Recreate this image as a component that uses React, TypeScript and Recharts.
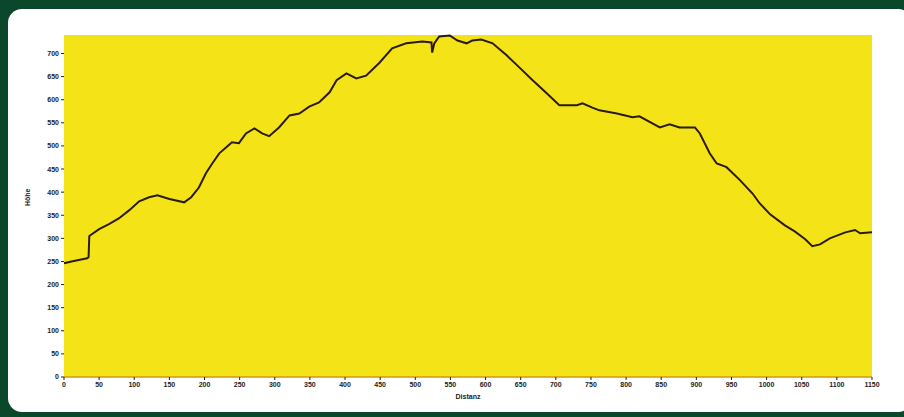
import { LineChart, Line, XAxis, YAxis, CartesianGrid, Label } from 'recharts'

// elevation profile
const distance = [
  0, 14, 33, 35, 36, 50, 64, 78, 93, 107, 121, 133, 150, 171, 181, 192, 202, 211, 221, 231,
  239, 249, 259, 271, 282, 292, 306, 321, 335, 349, 363, 378, 388, 402, 416, 430, 449, 467,
  487, 510, 523, 524, 527, 534, 549, 560, 573, 581, 594, 610, 630, 648, 667, 687, 705, 730,
  738, 752, 762, 787, 809, 819, 848, 862, 876, 898, 905, 919, 929, 943, 962, 980, 990, 1005,
  1026, 1040, 1055, 1065, 1076, 1090, 1112, 1126, 1133, 1150,
]
const elevation = [
  246, 251, 257, 259, 305, 320, 331, 343, 361, 380, 389, 393, 385, 378, 389, 410, 441, 462, 484, 497,
  508, 506, 527, 538, 527, 521, 540, 566, 570, 585, 594, 616, 642, 657, 646, 652, 680, 711,
  722, 726, 724, 702, 722, 737, 739, 728, 722, 728, 730, 722, 696, 670, 642, 614, 588, 588,
  592, 583, 577, 570, 562, 564, 540, 547, 540, 540, 527, 484, 462, 454, 426, 397, 376, 352,
  328, 315, 298, 283, 287, 300, 313, 318, 311, 313,
]
const xTicks = Array.from({ length: 24 }, (_, i) => i * 50)
const yTicks = Array.from({ length: 15 }, (_, i) => i * 50)

const data = distance.map((d, i) => ({ d, h: elevation[i] }))

const tickStyle = { fill: '#222', fontSize: 7, fontWeight: 700, fontFamily: 'Liberation Sans, Arial, sans-serif' }

export default function App() {
  return (
    <div style={{ position: 'absolute', left: 0, top: 0, width: 904, height: 417, background: '#0b472a', overflow: 'hidden' }}>
      <div style={{
        position: 'absolute', left: 8, top: 9, width: 904, height: 403,
        background: '#fff', borderRadius: 14,
      }} />
      <div style={{ position: 'absolute', left: 0, top: 0 }}>
        <LineChart width={904} height={417} data={data} margin={{ top: 35, right: 32, bottom: 10, left: 0 }}>
          <CartesianGrid fill="#f3e317" stroke="none" horizontal={false} vertical={false} />
          <XAxis
            dataKey="d"
            type="number"
            domain={[0, 1150]}
            ticks={xTicks}
            interval={0}
            height={30}
            tick={tickStyle}
            tickSize={3}
            tickLine={{ stroke: '#222' }}
            axisLine={{ stroke: '#d09a10', strokeWidth: 1.5 }}
          >
            <Label value="Distanz" position="insideBottom" offset={8} style={tickStyle} />
          </XAxis>
          <YAxis
            type="number"
            domain={[0, 740]}
            ticks={yTicks}
            interval={0}
            width={64}
            tick={tickStyle}
            tickSize={3}
            tickLine={{ stroke: '#222' }}
            axisLine={false}
          >
            <Label value="Höhe" angle={-90} position="insideLeft" offset={28} style={tickStyle} />
          </YAxis>
          <Line
            type="linear"
            dataKey="h"
            stroke="#2a1c0c"
            strokeWidth={2}
            dot={false}
            isAnimationActive={false}
          />
        </LineChart>
      </div>
    </div>
  )
}
